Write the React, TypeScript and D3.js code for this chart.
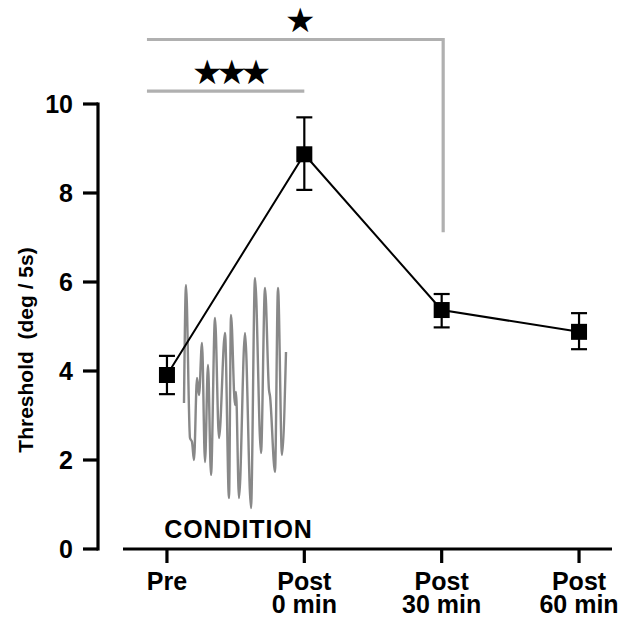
import React from "react";
import * as d3 from "d3";

const categories = ["Pre", "Post\n0 min", "Post\n30 min", "Post\n60 min"];
const means = [3.91, 8.87, 5.37, 4.88];
const errUpper = [4.34, 9.70, 5.73, 5.30];
const errLower = [3.48, 8.07, 4.98, 4.49];
const yTicks = [0, 2, 4, 6, 8, 10];

// significance brackets
const sigFrom = [0, 0];
const sigTo = [1, 2];
const sigLevel = [10.29, 11.45];
const sigDrop = [null, 7.12];
const sigStars = ["★★★", "★"];

// decorative stimulus trace (inset units)
const waveT = [0, 2, 6, 8, 10, 13, 15, 18, 21, 24, 27, 31, 35, 41, 45, 47, 51, 52, 55, 61, 67, 71, 77, 81, 85, 86, 91, 94, 98, 102];
const waveV = [105, 223, 70, 66, 48, 130, 113, 165, 46, 143, 33, 190, 70, 175, 10, 193, 103, 116, 10, 175, 0, 230, 55, 220, 118, 112, 36, 220, 53, 156];

export default function App() {
  const W = 623, H = 622;
  const x = d3.scaleLinear().domain([-0.32, 3.24]).range([123, 612]);
  const y = d3.scaleLinear().domain([0, 10]).range([549, 104]);
  const yAxisX = 98;
  const font = "'Liberation Sans', Arial, sans-serif";

  const wx = d3.scaleLinear().domain([0, 102]).range([184, 286]);
  const wy = d3.scaleLinear().domain([0, 230]).range([508, 278]);
  const wavePath = d3
    .line<number>()
    .x((_, i) => wx(waveT[i]))
    .y((v) => wy(v))
    .curve(d3.curveMonotoneX)(waveV) as string;

  const linePath = d3
    .line<number>()
    .x((_, i) => x(i))
    .y((v) => y(v))(means) as string;

  const ms = 16;
  const cap = 8;
  const grey = "#b0b0b0";

  return (
    <svg width={W} height={H} style={{ position: "absolute", left: 0, top: 0, background: "#fff" }}>
      <rect width={W} height={H} fill="#fff" />
      {/* significance brackets */}
      {sigFrom.map((f, k) => {
        const x0 = x(f) - 20;
        const x1 = x(sigTo[k]);
        const yy = y(sigLevel[k]);
        const drop = sigDrop[k];
        const d =
          drop === null
            ? `M${x0},${yy}H${x1}`
            : `M${x0},${yy}H${x1 + 1.5}V${y(drop)}`;
        return (
          <g key={k}>
            <path d={d} fill="none" stroke={grey} strokeWidth={3.2} />
            <text
              x={(x0 + x1) / 2 + 3}
              y={yy - 7}
              textAnchor="middle"
              fontFamily="'DejaVu Sans', sans-serif"
              fontSize={34}
              letterSpacing={-6}
              fill="#000"
            >
              {sigStars[k]}
            </text>
          </g>
        );
      })}

      {/* y axis */}
      <line x1={yAxisX} x2={yAxisX} y1={y(10) - 1.5} y2={y(0) + 1.5} stroke="#000" strokeWidth={3.2} />
      {yTicks.map((t) => (
        <g key={t}>
          <line x1={yAxisX - 15} x2={yAxisX} y1={y(t)} y2={y(t)} stroke="#000" strokeWidth={3.2} />
          <text
            x={yAxisX - 25}
            y={y(t) + 9}
            textAnchor="end"
            fontFamily={font}
            fontWeight="bold"
            fontSize={25}
            fill="#000"
          >
            {t}
          </text>
        </g>
      ))}
      <text
        transform={`translate(33,350) rotate(-90)`}
        textAnchor="middle"
        fontFamily={font}
        fontWeight="bold"
        fontSize={21}
        fill="#000"
        style={{ whiteSpace: "pre" }}
      >
        {"Threshold  (deg / 5s)"}
      </text>

      {/* x axis */}
      <line x1={x(-0.32)} x2={x(3.24)} y1={y(0)} y2={y(0)} stroke="#000" strokeWidth={3.2} />
      {categories.map((c, i) => {
        const lines = c.split("\n");
        return (
          <g key={i}>
            <line x1={x(i)} x2={x(i)} y1={y(0)} y2={y(0) + 14} stroke="#000" strokeWidth={3.2} />
            <text
              x={x(i)}
              y={590}
              textAnchor="middle"
              fontFamily={font}
              fontWeight="bold"
              fontSize={25}
              fill="#000"
            >
              {lines.map((l, j) => (
                <tspan key={j} x={x(i)} dy={j === 0 ? 0 : 23}>
                  {l}
                </tspan>
              ))}
            </text>
          </g>
        );
      })}

      {/* stimulus inset */}
      <path d={wavePath} fill="none" stroke="#888" strokeWidth={2.4} />
      <text
        x={238.5}
        y={538}
        textAnchor="middle"
        fontFamily={font}
        fontWeight="bold"
        fontSize={25}
        letterSpacing={0.9}
        fill="#000"
      >
        CONDITION
      </text>

      {/* data line */}
      <path d={linePath} fill="none" stroke="#000" strokeWidth={2} />
      {means.map((m, i) => (
        <g key={i}>
          <line x1={x(i)} x2={x(i)} y1={y(errUpper[i])} y2={y(errLower[i])} stroke="#000" strokeWidth={2.2} />
          <line x1={x(i) - cap} x2={x(i) + cap} y1={y(errUpper[i])} y2={y(errUpper[i])} stroke="#000" strokeWidth={2.2} />
          <line x1={x(i) - cap} x2={x(i) + cap} y1={y(errLower[i])} y2={y(errLower[i])} stroke="#000" strokeWidth={2.2} />
          <rect x={x(i) - ms / 2} y={y(m) - ms / 2} width={ms} height={ms} fill="#000" />
        </g>
      ))}
    </svg>
  );
}
